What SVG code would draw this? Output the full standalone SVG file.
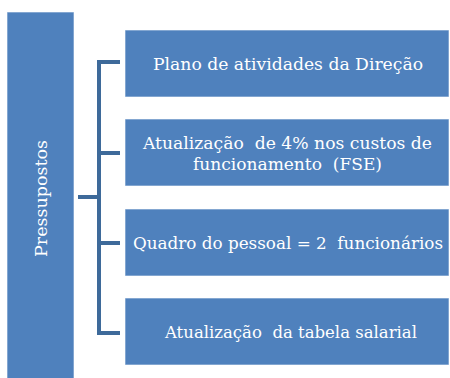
<svg xmlns="http://www.w3.org/2000/svg" width="450" height="378" viewBox="0 0 450 378">
<style>
.box{fill:#4F81BD;stroke:#ffffff;stroke-width:1;stroke-opacity:0.6}
.t{font-size:17px;fill:#ffffff;text-anchor:middle}
.c{stroke:#3E6A9A;stroke-width:4;fill:none}
</style>
<rect width="450" height="378" fill="#ffffff"/>
<g id="connectors">
<path class="c" d="M120,62 H99 V333 H120 M99,153 H120 M99,243 H120 M78,197 H99"/>
</g>
<g font-family="DejaVu Serif Condensed, DejaVu Serif, serif">
<g id="pressupostos">
<rect class="box" x="7" y="12" width="67" height="370"/>
<text class="t" transform="translate(47,198.5) rotate(-90)" textLength="117" lengthAdjust="spacingAndGlyphs">Pressupostos</text>
</g>
<g id="n1">
<rect class="box" x="125" y="30" width="324" height="67"/>
<text class="t" x="288" y="70" textLength="270" lengthAdjust="spacingAndGlyphs">Plano de atividades da Direção</text>
</g>
<g id="n2">
<rect class="box" x="125" y="119" width="324" height="67"/>
<text class="t" xml:space="preserve" x="287.5" y="149" textLength="289" lengthAdjust="spacingAndGlyphs">Atualização  de 4% nos custos de</text>
<text class="t" xml:space="preserve" x="287.5" y="170" textLength="189" lengthAdjust="spacingAndGlyphs">funcionamento  (FSE)</text>
</g>
<g id="n3">
<rect class="box" x="125" y="209" width="324" height="67"/>
<text class="t" xml:space="preserve" x="288" y="249" textLength="310" lengthAdjust="spacingAndGlyphs">Quadro do pessoal = 2  funcionários</text>
</g>
<g id="n4">
<rect class="box" x="125" y="298" width="324" height="67"/>
<text class="t" xml:space="preserve" x="291" y="338" textLength="252" lengthAdjust="spacingAndGlyphs">Atualização  da tabela salarial</text>
</g>
</g>
</svg>
